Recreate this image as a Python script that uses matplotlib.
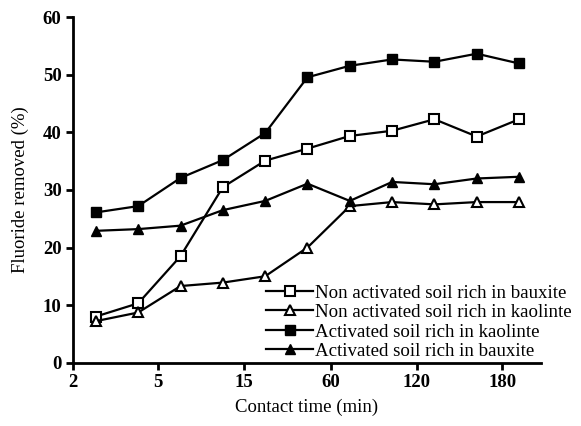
import matplotlib
matplotlib.use("Agg")
import matplotlib.pyplot as plt
import numpy as np

# Sampling points (categorical, equally spaced on the axis)
sample_index = list(range(11))

non_act_bauxite = [8.0, 10.3, 18.5, 30.5, 35.1, 37.2, 39.4, 40.3, 42.3, 39.3, 42.3]
non_act_kaolinite = [7.2, 8.7, 13.3, 13.9, 15.0, 20.0, 27.2, 27.9, 27.5, 27.9, 27.9]
act_kaolinite = [26.1, 27.2, 32.1, 35.2, 39.9, 49.6, 51.6, 52.7, 52.3, 53.7, 52.0]
act_bauxite = [22.9, 23.2, 23.8, 26.5, 28.1, 31.1, 28.1, 31.4, 31.0, 32.0, 32.3]

labels = ["Non activated soil rich in bauxite",
          "Non activated soil rich in kaolinte",
          "Activated soil rich in kaolinte",
          "Activated soil rich in bauxite"]

xtick_pos = [-0.55, 1.47, 3.50, 5.55, 7.58, 9.60]
xtick_labels = ["2", "5", "15", "60", "120", "180"]
yticks = [0, 10, 20, 30, 40, 50, 60]

plt.rcParams['font.family'] = ['Liberation Serif', 'DejaVu Serif']

fig = plt.figure(figsize=(5.81, 4.26), dpi=100)
ax = fig.add_axes([0.125, 0.149, 0.807, 0.810])

lw = 1.6
ms = 7
ax.plot(sample_index, non_act_bauxite, color='black', lw=lw, marker='s', ms=ms,
        mfc='white', mec='black', mew=1.5, label=labels[0])
ax.plot(sample_index, non_act_kaolinite, color='black', lw=lw, marker='^', ms=ms,
        mfc='white', mec='black', mew=1.5, label=labels[1])
ax.plot(sample_index, act_kaolinite, color='black', lw=lw, marker='s', ms=ms + 0.5,
        mfc='black', mec='black', label=labels[2])
ax.plot(sample_index, act_bauxite, color='black', lw=lw, marker='^', ms=ms + 0.5,
        mfc='black', mec='black', label=labels[3])

ax.set_xlim(-0.55, 10.53)
ax.set_ylim(0, 60)
ax.set_xticks(xtick_pos)
ax.set_xticklabels(xtick_labels)
ax.set_yticks(yticks)

for s in ['top', 'right']:
    ax.spines[s].set_visible(False)
for s in ['left', 'bottom']:
    ax.spines[s].set_linewidth(2.0)

ax.tick_params(axis='both', width=2.0, length=5, labelsize=13.5, pad=3)
for lab in ax.get_xticklabels() + ax.get_yticklabels():
    lab.set_fontweight('bold')

ax.set_xlabel("Contact time (min)", fontsize=13.5, labelpad=6)
ax.set_ylabel("Fluoride removed (%)", fontsize=13.5, labelpad=10)

leg = ax.legend(loc='lower left', bbox_to_anchor=(266 / 581, (426 - 360) / 426),
                bbox_transform=fig.transFigure, frameon=False, fontsize=13.6,
                handlelength=2.5, handletextpad=0.1, labelspacing=0.12,
                borderpad=0, borderaxespad=0)

fig.savefig("out.png", dpi=100)
